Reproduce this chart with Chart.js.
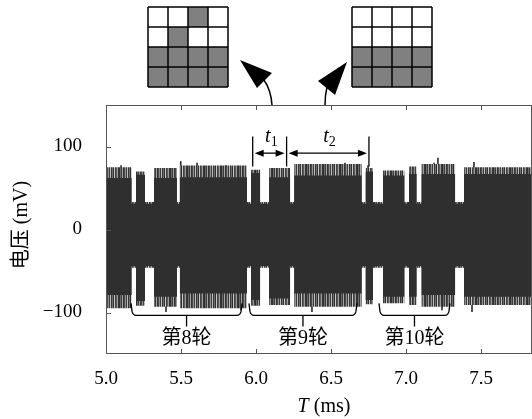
<!DOCTYPE html>
<html>
<head>
<meta charset="utf-8">
<script src="https://cdn.jsdelivr.net/npm/chart.js@4.4.1/dist/chart.umd.min.js"></script>
<style>
  html, body { margin: 0; padding: 0; background: #fff; }
  #wrap { width: 532px; height: 419px; }
</style>
</head>
<body>
<div id="wrap"><canvas id="voltChart" width="532" height="419"></canvas></div>
<script>
// axis ticks
const xTicks = [5.0, 5.5, 6.0, 6.5, 7.0, 7.5];
const yTicks = [-100, 0, 100];
const xMin = 5.0, xMax = 7.84;

// gaps in the pulse train (ms)
const gapStart = [5.171, 5.26, 5.473, 5.94, 6.027, 6.227, 6.704, 6.78, 6.989, 7.071, 7.327];
const gapEnd   = [5.2, 5.32, 5.493, 5.967, 6.087, 6.255, 6.731, 6.847, 7.02, 7.104, 7.387];
// level inside the gaps (mV)
const gapHigh = 31;
const gapLow = -44;

// the 12 bursts between gaps (mV): solid part and noisy edge
const burstHigh   = [62, 66, 62, 63, 68, 63, 65, 70, 65, 67, 67, 67];
const burstPeak   = [75, 70, 74, 77, 72, 74, 79, 74, 71, 76, 79, 75];
const burstLow    = [-79, -86, -81, -77, -85, -83, -77, -85, -81, -81, -79, -81];
const burstTrough = [-95, -92, -93, -95, -92, -91, -93, -90, -89, -91, -93, -91];

// a few single spikes that stick out (ms, mV)
const spikeTime = [5.1, 5.498, 5.607, 5.8, 6.593, 6.747, 7.187, 7.213, 7.453, 5.4, 5.9, 6.373, 7.24, 7.44];
const spikeTip  = [77, 82, 80, 77, 80, 77, 80, 86, 81, -99, -97, -99, -97, -99];

// t1 / t2 marks (ms)
const markTimes = [5.978, 6.204, 6.753];

// rounds marked under the trace (ms)
const roundNames = ['第8轮', '第9轮', '第10轮'];
const roundStart = [5.167, 5.953, 6.82];
const roundEnd   = [5.907, 6.673, 7.293];

// 4x4 patterns above the plot (1 = grey)
const leftGrid  = [[0, 0, 1, 0], [0, 1, 0, 0], [1, 1, 1, 1], [1, 1, 1, 1]];
const rightGrid = [[0, 0, 0, 0], [0, 0, 0, 0], [1, 1, 1, 1], [1, 1, 1, 1]];

const DARK = '#2f2f2f';
const serif = '"Liberation Serif", "Noto Sans CJK SC", serif';

// stepped envelope: each burst holds its level until the next gap
function envelope(burstVals, gapVal) {
    const pts = [{ x: xMin, y: burstVals[0] }];
    for (let i = 0; i < gapStart.length; i++) {
        pts.push({ x: gapStart[i], y: gapVal });
        pts.push({ x: gapEnd[i], y: burstVals[i + 1] });
    }
    pts.push({ x: xMax, y: burstVals[burstVals.length - 1] });
    return pts;
}

// striped fill for the ragged edge of the signal
function edgePattern() {
    const c = document.createElement('canvas');
    c.width = 17; c.height = 1;
    const g = c.getContext('2d');
    const cols = ['#2f2f2f', '#6a6a6a', '#3a3a3a', '#a5a5a5', '#333', '#4a4a4a', '#909090', '#3c3c3c', '#bdbdbd',
                  '#353535', '#707070', '#2f2f2f', '#c8c8c8', '#404040', '#5c5c5c', '#9a9a9a', '#363636'];
    cols.forEach((col, i) => { g.fillStyle = col; g.fillRect(i, 0, 1, 1); });
    return g.createPattern(c, 'repeat');
}

function bandSet(data, fillStyle, fill) {
    return {
        type: 'line',
        data: data,
        stepped: true,
        pointRadius: 0,
        borderWidth: 0,
        borderColor: 'rgba(0,0,0,0)',
        backgroundColor: fillStyle,
        fill: fill
    };
}

function arrowHead(ctx, x, y, dir) {
    ctx.beginPath();
    ctx.moveTo(x, y);
    ctx.lineTo(x - dir * 9, y - 3.5);
    ctx.lineTo(x - dir * 9, y + 3.5);
    ctx.closePath();
    ctx.fill();
}

function drawGrid(ctx, left, top, cells) {
    const s = 20;
    cells.forEach((row, r) => row.forEach((v, c) => {
        ctx.fillStyle = v ? '#808080' : '#fff';
        ctx.fillRect(left + c * s, top + r * s, s, s);
    }));
    ctx.strokeStyle = '#000';
    ctx.lineWidth = 1.5;
    for (let i = 0; i <= 4; i++) {
        ctx.beginPath();
        ctx.moveTo(left + i * s, top); ctx.lineTo(left + i * s, top + 4 * s);
        ctx.moveTo(left, top + i * s); ctx.lineTo(left + 4 * s, top + i * s);
        ctx.stroke();
    }
}

const decorations = {
    id: 'decorations',
    afterDraw(chart) {
        const { ctx, chartArea: a, scales: { x, y } } = chart;
        ctx.save();

        // frame and inward ticks
        ctx.strokeStyle = '#555';
        ctx.lineWidth = 1;
        ctx.strokeRect(a.left + 0.5, a.top + 0.5, a.right - a.left - 1, a.bottom - a.top - 1);
        ctx.beginPath();
        xTicks.forEach(t => {
            const px = Math.round(x.getPixelForValue(t)) + 0.5;
            ctx.moveTo(px, a.bottom); ctx.lineTo(px, a.bottom - 5);
            ctx.moveTo(px, a.top); ctx.lineTo(px, a.top + 5);
        });
        yTicks.forEach(v => {
            const py = Math.round(y.getPixelForValue(v)) + 0.5;
            ctx.moveTo(a.left, py); ctx.lineTo(a.left + 5, py);
        });
        ctx.stroke();

        // t1, t2
        ctx.strokeStyle = '#000';
        ctx.fillStyle = '#000';
        ctx.lineWidth = 1.3;
        const mx = markTimes.map(t => x.getPixelForValue(t));
        const yTop = y.getPixelForValue(112), yBot = y.getPixelForValue(76), yArr = y.getPixelForValue(92);
        mx.forEach(px => {
            ctx.beginPath(); ctx.moveTo(px, yTop); ctx.lineTo(px, yBot); ctx.stroke();
        });
        for (let i = 0; i < 2; i++) {
            const l = mx[i] + 2, r = mx[i + 1] - 2;
            ctx.beginPath(); ctx.moveTo(l + 5, yArr); ctx.lineTo(r - 5, yArr); ctx.stroke();
            arrowHead(ctx, l, yArr, -1);
            arrowHead(ctx, r, yArr, 1);
            const cx = (mx[i] + mx[i + 1]) / 2;
            ctx.font = 'italic 20px ' + serif;
            ctx.textAlign = 'right';
            ctx.textBaseline = 'alphabetic';
            ctx.fillText('t', cx + 1, yTop + 5);
            ctx.font = '14px ' + serif;
            ctx.textAlign = 'left';
            ctx.fillText(String(i + 1), cx + 1, yTop + 9);
        }

        // braces with round names
        const yb = y.getPixelForValue(-103.5);
        roundNames.forEach((name, i) => {
            const x0 = x.getPixelForValue(roundStart[i]), x1 = x.getPixelForValue(roundEnd[i]);
            const mid = (x0 + x1) / 2;
            ctx.beginPath();
            ctx.moveTo(x0, yb - 12);
            ctx.lineTo(x0 + 1, yb - 4);
            ctx.quadraticCurveTo(x0 + 2, yb, x0 + 5, yb);
            ctx.lineTo(x1 - 5, yb);
            ctx.quadraticCurveTo(x1 - 2, yb, x1 - 1, yb - 4);
            ctx.lineTo(x1, yb - 12);
            ctx.moveTo(mid, yb);
            ctx.lineTo(mid, yb + 11);
            ctx.stroke();
            ctx.font = '20px ' + serif;
            ctx.textAlign = 'center';
            ctx.textBaseline = 'middle';
            ctx.fillText(name, mid, yb + 23);
        });

        // axis titles
        ctx.font = 'italic 20px ' + serif;
        ctx.textAlign = 'left';
        ctx.textBaseline = 'middle';
        const tw = ctx.measureText('T').width;
        ctx.font = '20px ' + serif;
        const rest = ' (ms)';
        const rw = ctx.measureText(rest).width;
        const tx = 324 - (tw + rw) / 2;
        ctx.font = 'italic 20px ' + serif;
        ctx.fillText('T', tx, 407);
        ctx.font = '20px ' + serif;
        ctx.fillText(rest, tx + tw, 407);

        ctx.save();
        ctx.translate(22, 225);
        ctx.rotate(-Math.PI / 2);
        ctx.textAlign = 'center';
        ctx.fillText('电压 (mV)', 0, 0);
        ctx.restore();

        // patterns and arrows above the plot
        drawGrid(ctx, 148, 7, leftGrid);
        drawGrid(ctx, 352, 7, rightGrid);
        ctx.fillStyle = '#000';
        ctx.lineWidth = 1.5;
        ctx.beginPath();
        ctx.moveTo(272, a.top);
        ctx.quadraticCurveTo(271, 90, 264, 80);
        ctx.stroke();
        ctx.beginPath();
        ctx.moveTo(240, 60); ctx.lineTo(272, 73); ctx.lineTo(257, 88); ctx.closePath(); ctx.fill();
        ctx.beginPath();
        ctx.moveTo(325, a.top);
        ctx.quadraticCurveTo(325, 95, 327, 87);
        ctx.stroke();
        ctx.beginPath();
        ctx.moveTo(347, 62); ctx.lineTo(318, 81); ctx.lineTo(335, 95); ctx.closePath(); ctx.fill();

        ctx.restore();
    }
};

const edge = edgePattern();

new Chart(document.getElementById('voltChart'), {
    type: 'line',
    data: {
        datasets: [
            // solid body, filled down to the lower solid envelope
            bandSet(envelope(burstHigh, gapHigh), DARK, '+1'),
            bandSet(envelope(burstLow, gapLow), DARK, false),
            // ragged edge, filled between the outer envelopes
            bandSet(envelope(burstPeak, gapHigh + 2), edge, '+1'),
            bandSet(envelope(burstTrough, gapLow - 2), edge, false),
            {
                type: 'bar',
                data: spikeTime.map((t, i) => ({ x: t, y: spikeTip[i] })),
                backgroundColor: DARK,
                barThickness: 1,
                borderWidth: 0
            }
        ]
    },
    options: {
        responsive: false,
        animation: false,
        devicePixelRatio: 1,
        layout: { padding: { top: 105, right: 0, left: 0, bottom: 0 } },
        plugins: { legend: { display: false }, tooltip: { enabled: false } },
        scales: {
            x: {
                type: 'linear',
                offset: false,
                min: xMin,
                max: xMax,
                afterBuildTicks: s => { s.ticks = xTicks.map(v => ({ value: v })); },
                afterFit: s => { s.height = 65; },
                grid: { display: false, offset: false },
                border: { display: false },
                ticks: {
                    color: '#000',
                    font: { family: serif, size: 19 },
                    padding: 6,
                    maxRotation: 0,
                    autoSkip: false,
                    callback: v => v.toFixed(1)
                }
            },
            y: {
                min: -150,
                max: 150,
                afterBuildTicks: s => { s.ticks = yTicks.map(v => ({ value: v })); },
                afterFit: s => { s.width = 106; },
                grid: { display: false },
                border: { display: false },
                ticks: {
                    color: '#000',
                    font: { family: serif, size: 19 },
                    padding: 16,
                    callback: v => v < 0 ? '\u2212' + Math.abs(v) : String(v)
                }
            }
        }
    },
    plugins: [decorations]
});
</script>
</body>
</html>
